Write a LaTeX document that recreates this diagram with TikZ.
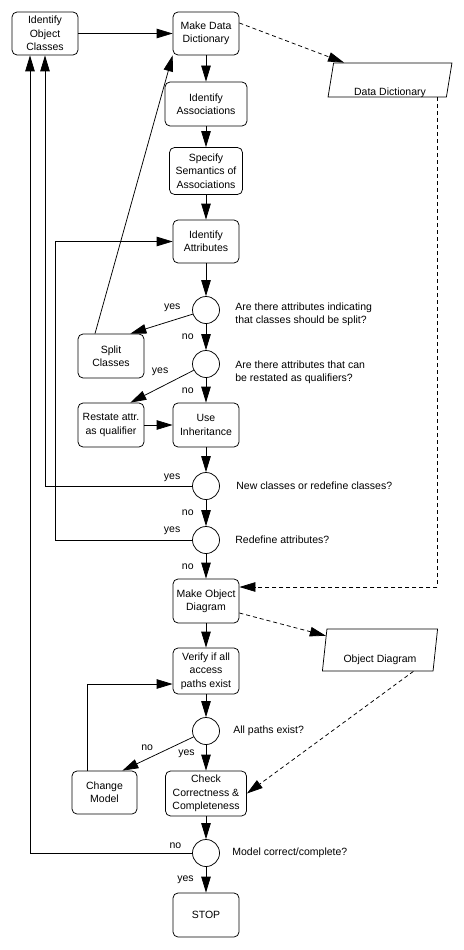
\documentclass[tikz,border=0pt]{standalone}
\usepackage{fontspec}
\setmainfont{Liberation Sans}
\usetikzlibrary{arrows.meta,shapes.geometric,positioning}

\begin{document}
\begin{tikzpicture}[x=1pt, y=-1pt, line width=0.75pt, >={Triangle[length=16pt,width=9.5pt]},
  font=\fontsize{10.5}{13.3}\selectfont,
  main node/.style={rectangle, rounded corners=5pt, draw, align=center, minimum width=66pt, minimum height=43pt, inner sep=2pt},
  test node/.style={circle, draw, minimum size=27pt, inner sep=0pt},
  data node/.style={trapezium, draw, trapezium left angle=60, trapezium right angle=120, trapezium stretches=true, minimum width=124pt, minimum height=34pt},
  question/.style={anchor=west, align=left, inner sep=0pt},
  answer/.style={inner sep=0pt},
  dashed line/.style={dash pattern=on 4pt off 3pt}]
\useasboundingbox (0,0) rectangle (463,950);
% main column
\node[main node](ioc) at (45,33.5){Identify\\Object\\Classes};
\node[main node](mdd) at (206,33.5){Make Data\\Dictionary};
\node[main node, minimum width=82pt, minimum height=44pt](ia) at (206,104){Identify\\Associations};
\node[main node, minimum width=73pt, minimum height=47pt](ssa) at (206,171){Specify\\Semantics of\\Associations};
\node[main node](iat) at (206,241.5){Identify\\Attributes};
\node[test node](d1) at (206,310){};
\node[main node, minimum height=44pt](sc) at (111,356){Split\\Classes};
\node[test node](d2) at (206,364){};
\node[main node, minimum height=44pt](rs) at (111,425){Restate attr.\\as qualifier};
\node[main node, minimum height=44pt](ui) at (206,425){Use\\Inheritance};
\node[test node](d3) at (206,486){};
\node[test node](d4) at (206,540){};
\node[main node, minimum height=44pt](mod) at (206,601){Make Object\\Diagram};
\node[main node, minimum height=46pt](ver) at (206,671){Verify if all\\access\\paths exist};
\node[test node](d5) at (206,731){};
\node[main node, minimum width=65pt](cm) at (104.5,792.5){Change\\Model};
\node[main node, minimum width=81pt, minimum height=45pt](chk) at (206,793.5){Check\\Correctness \&\\Completeness};
\node[test node](d6) at (206,853){};
\node[main node, minimum height=44pt](stop) at (206,915){STOP};
% data stores
\node[data node](dd) at (390,80){\raisebox{-15pt}[0pt][0pt]{Data Dictionary}};
\node[data node, trapezium left angle=63, trapezium right angle=117, minimum width=116pt, minimum height=42pt](od) at (380,650){\raisebox{-12pt}[0pt][0pt]{Object Diagram}};
% questions
\node[question](q1) at (235,314.5){Are there attributes indicating\\that classes should be split?};
\node[question](q2) at (235,372.5){Are there attributes that can\\be restated as qualifiers?};
\node[question](q3) at (236,486){New classes or redefine classes?};
\node[question](q4) at (235,540){Redefine attributes?};
\node[question](q5) at (233,731){All paths exist?};
\node[question](q6) at (232,853){Model correct/complete?};
% flow
\draw[->](ioc)--(mdd);
\foreach \a/\b in {mdd/ia, ia/ssa, ssa/iat, iat/d1, rs/ui, ui/d3, mod/ver, ver/d5, chk/d6}
  \draw[->](\a)--(\b);
\draw[->](d1)--node[answer, left=12pt]{no}(d2);
\draw[->](d2)--node[answer, left=12pt]{no}(ui);
\draw[->](d3)--node[answer, left=12pt]{no}(d4);
\draw[->](d4)--node[answer, left=12pt]{no}(mod);
\draw[->](d5)--node[answer, left=11pt, pos=0.35]{yes}(chk);
\draw[->](d6)--node[answer, left=12pt]{yes}(stop);
\draw[->](d1)--node[answer, at start, anchor=south east, xshift=-12pt, yshift=2pt]{yes}([xshift=-14pt]sc.north east);
\draw[->](d2)--node[answer, at start, anchor=south east, xshift=-25pt, yshift=-6pt]{yes}([xshift=-14pt]rs.north east);
\draw[->](d5)--node[answer, at start, anchor=south east, xshift=-40pt, yshift=-14pt]{no}([xshift=-15pt]cm.north east);
\draw[->]([xshift=-16pt]sc.north)--(mdd.south west);
\draw[->](d3)-|node[answer, at start, anchor=south east, xshift=-11.5pt, yshift=4pt]{yes}(ioc.south);
\draw[->](d4)--node[answer, at start, anchor=south east, xshift=-11.5pt, yshift=5pt]{yes}++(-151,0)|-(iat);
\draw[->](d6)-|node[answer, at start, anchor=south east, xshift=-10.5pt, yshift=4pt]{no}([xshift=-15pt]ioc.south);
\draw[->]([xshift=-17.5pt]cm.north)|-([yshift=-13pt]ver.west);
% documents
\draw[->, dashed line]([yshift=10.5pt]mdd.east)--(dd);
\draw[->, dashed line]([xshift=-9pt]dd.bottom right corner)|-([yshift=14pt]mod.east);
\draw[->, dashed line]([yshift=-12pt]mod.east)--(od);
\draw[->, dashed line]([xshift=-20pt]od.bottom right corner)--(chk.east);
\end{tikzpicture}
\end{document}
